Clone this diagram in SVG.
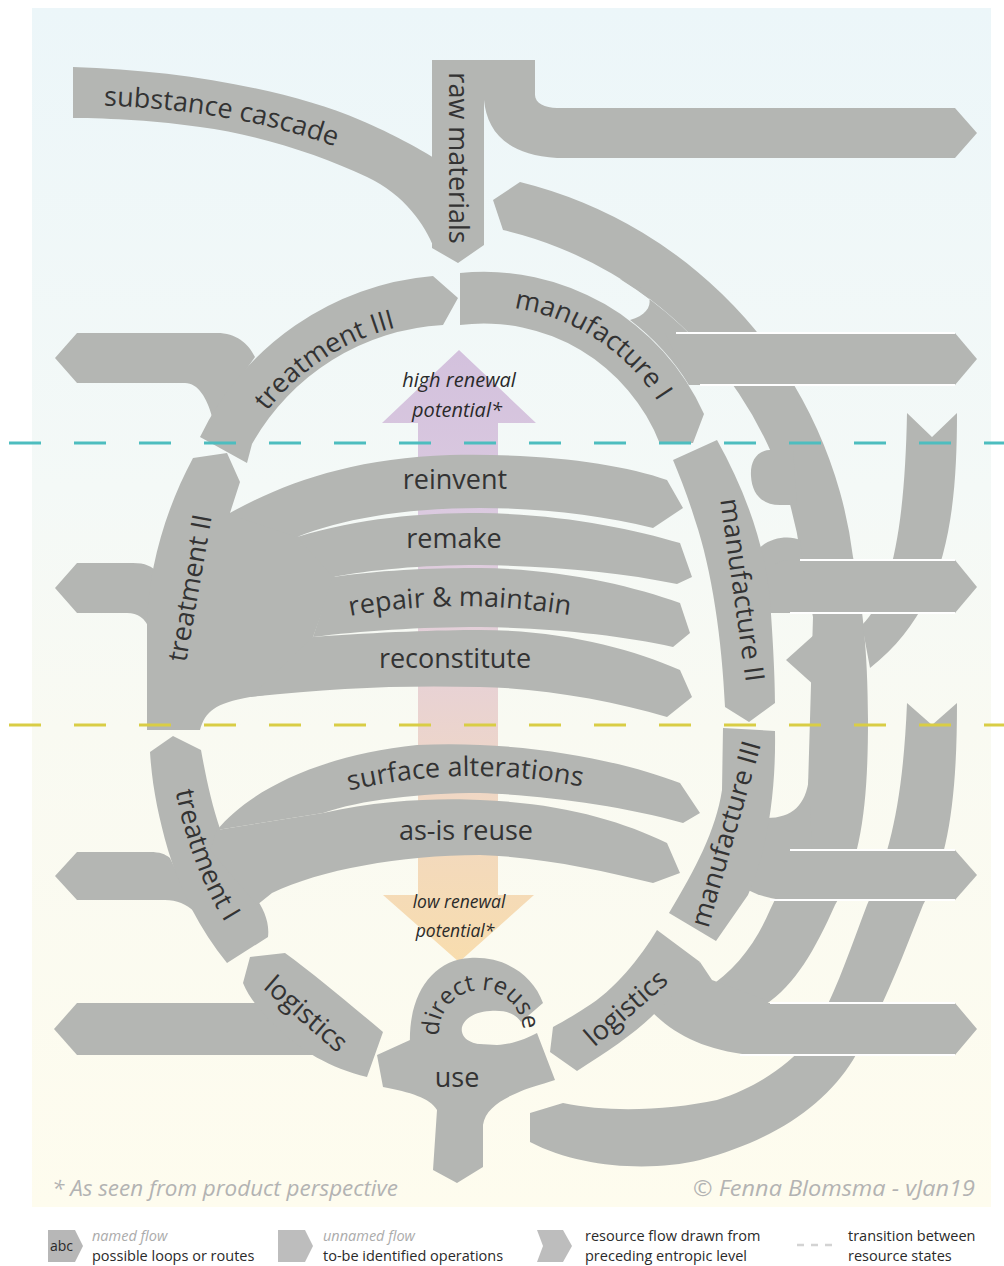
<svg xmlns="http://www.w3.org/2000/svg" width="1004" height="1266" viewBox="0 0 1004 1266">
<defs>
<linearGradient id="bg" x1="0" y1="8" x2="0" y2="1207" gradientUnits="userSpaceOnUse">
<stop offset="0" stop-color="#ecf6f9"/>
<stop offset="0.4" stop-color="#f4f9f7"/>
<stop offset="0.6" stop-color="#f9faf2"/>
<stop offset="1" stop-color="#fefcee"/>
</linearGradient>
<linearGradient id="renew" x1="0" y1="350" x2="0" y2="962" gradientUnits="userSpaceOnUse">
<stop offset="0" stop-color="#d3c1dd"/>
<stop offset="0.3" stop-color="#dccbe0"/>
<stop offset="0.55" stop-color="#e8d2d4"/>
<stop offset="0.75" stop-color="#f1d8c2"/>
<stop offset="1" stop-color="#f8ddae"/>
</linearGradient>
<path id="p-cascade" d="M 88,105 C 170,107 260,117 350,152"/>
<path id="p-t3" d="M 229.5,477.9 A 240 240 0 0 1 471.7,320.6"/>
<path id="p-m1" d="M 448.2,309.1 A 206 206 0 0 1 683.9,462.2"/>
<path id="p-repair" d="M 345,617 Q 455,596 575,616"/>
<path id="p-surface" d="M 343,792 Q 465,762 588,788"/>
<path id="p-t1" d="M 171,765 Q 186,870 240,945"/>
<path id="p-direct" d="M 439.1,1035.1 A 42 42 0 1 1 522.9,1029.1"/>
</defs>
<style>
.f{fill:#b4b6b3}
.edge{fill:none;stroke:#ffffff;stroke-width:2}
.lbl{font-family:'Open Sans','Liberation Sans',sans-serif;font-size:27px;fill:#333333}
.ren{font-family:'Open Sans','Liberation Sans',sans-serif;font-style:italic;fill:#2a2a2a}
.foot{font-family:'Open Sans','Liberation Sans',sans-serif;font-style:italic;font-size:22px;fill:#b3b3b3}
.lg{font-family:'Open Sans','Liberation Sans',sans-serif;font-size:14.5px;fill:#2a2a2a}
.lgi{font-family:'Open Sans','Liberation Sans',sans-serif;font-size:14.5px;font-style:italic;fill:#ababab}
.dash1{fill:none;stroke:#4dbdbf;stroke-width:3;stroke-dasharray:32 33}
.dash2{fill:none;stroke:#d9cd45;stroke-width:3;stroke-dasharray:32 33}
</style>
<rect x="0" y="0" width="1004" height="1266" fill="#ffffff"/>
<rect x="32" y="8" width="959" height="1199" fill="url(#bg)"/>

<g id="renewal-arrow">
<path d="M 459,350 L 536,423 L 498,423 L 498,895 L 534,895 L 459,962 L 383,895 L 418,895 L 418,423 L 382,423 Z" fill="url(#renew)"/>
</g>

<g id="connectors">
<path class="f" d="M 493,200 L 520,182 A 442 442 0 0 1 853,557 C 862,600 868,650 868,720 C 868,800 862,860 835,905 C 815,950 795,985 765,1005 L 705,990 C 735,970 755,945 770,910 C 790,870 805,830 808,787 L 813,617 L 801,557 A 391 391 0 0 0 503,230 Z"/>
<path class="f" d="M 776,450 C 758,448 750,460 751,476 C 752,494 762,505 780,505 L 797,505 L 793,450 Z"/>
<path class="f" d="M 758,550 C 768,537 790,535 800,540 L 809,613 L 768,613 Z"/>
<path class="f" d="M 815,634 L 786,660 L 815,686 Z"/>
<path class="f" d="M 809,778 C 806,805 792,818 767,818 L 758,852 L 812,852 Z"/>
<path class="f" d="M 620,279 C 655,285 660,312 630,320 A 241 241 0 0 1 689,385 L 733,385 A 391 391 0 0 0 620,279 Z"/>
<path class="f" d="M 907,413 L 932,437 L 957,413 C 957,520 945,610 870,668 L 862,625 C 893,595 905,520 907,413 Z"/>
<path class="f" d="M 907,703 L 932,725 L 957,703 C 957,800 948,860 923,905 C 905,950 885,1005 853,1060 C 825,1105 775,1140 700,1160 C 650,1172 580,1168 530,1142 L 530,1113 L 563,1103 C 610,1113 670,1110 717,1100 C 760,1087 790,1062 805,1045 C 830,1010 848,955 867,905 C 890,855 903,800 907,703 Z"/>
<path class="f" d="M 665,333 L 955,333 L 977,359 L 955,385 L 689,385 Z"/>
<path class="edge" d="M 676,333 L 955,333 M 700,385 L 955,385"/>
<path class="f" d="M 790,560 L 955,560 L 977,587 L 955,613 L 768,613 L 768,572 C 774,563 781,560 790,560 Z"/>
<path class="edge" d="M 800,560 L 955,560 M 790,613 L 955,613"/>
<path class="f" d="M 783,850 L 955,850 L 977,875 L 955,900 L 783,900 C 765,898 752,893 743,887 L 760,850 Z"/>
<path class="edge" d="M 790,850 L 955,850 M 770,900 L 955,900"/>
<path class="f" d="M 760,1003 L 955,1003 L 977,1029 L 955,1055 L 750,1055 C 705,1050 675,1035 652,1012 L 700,962 L 712,980 L 765,1000 Z"/>
<path class="edge" d="M 770,1003 L 955,1003 M 740,1055 L 955,1055"/>
<path class="f" d="M 217,333 C 236,333 248,343 255,357 L 212,417 C 207,398 198,383 185,383 L 77,383 L 55,358 L 77,333 Z"/>
<path class="f" d="M 77,563 L 133,563 C 145,563 152,566 158,573 L 150,630 C 145,618 138,613 127,613 L 77,613 L 55,588 Z"/>
<path class="f" d="M 77,852 L 150,852 C 160,852 165,854 170,858 L 195,912 C 186,904 177,900 165,900 L 77,900 L 55,876 Z"/>
<path class="f" d="M 77,1003 L 262,1003 L 330,1055 L 77,1055 L 54,1029 Z"/>
</g>

<g id="substance-cascade"><path class="f" d="M 73,67 C 180,70 290,90 360,120 C 395,135 418,148 434,158 L 434,248 C 425,225 405,195 367,177 C 320,155 260,135 200,127 C 160,121 110,118 73,118 Z"/>
<text class="lbl" text-anchor="middle"><textPath href="#p-cascade" startOffset="50%">substance cascade</textPath></text></g>

<g id="raw-materials"><path class="f" d="M 432,60 L 535,60 L 535,95 C 535,103 545,108 557,108 L 955,108 L 977,133 L 955,158 L 557,158 C 505,155 487,130 484,100 L 484,245 L 458,263 L 432,248 Z"/>
<text class="lbl" text-anchor="middle" transform="translate(458,158) rotate(90)" x="0" y="9">raw materials</text></g>

<g id="treatment-iii"><path class="f" d="M 433,276 L 458,298 L 443,325 A 234 234 0 0 0 252,444 L 247,463 L 200,437 A 285 285 0 0 1 433,276 Z"/>
<text class="lbl" text-anchor="middle"><textPath href="#p-t3" startOffset="50%">treatment III</textPath></text></g>

<g id="manufacture-i"><path class="f" d="M 460,273 A 241 241 0 0 1 704,414 L 693,443 L 660,444 A 189 189 0 0 0 460,325 Z"/>
<text class="lbl" text-anchor="middle"><textPath href="#p-m1" startOffset="50%">manufacture I</textPath></text></g>

<g id="manufacture-ii"><path class="f" d="M 673,460 L 717,440 C 745,490 765,545 770,600 C 773,640 775,680 775,703 L 749,722 L 725,707 C 722,640 712,570 695,520 C 688,497 680,477 673,460 Z"/>
<text class="lbl" text-anchor="middle" transform="translate(742,590) rotate(82)" x="0" y="9">manufacture II</text></g>

<g id="manufacture-iii"><path class="f" d="M 723,728 L 775,731 C 776,790 768,850 748,895 L 716,941 L 669,913 C 695,870 716,830 722,790 Z"/>
<text class="lbl" text-anchor="middle" transform="translate(726,834) rotate(-74)" x="0" y="9">manufacture III</text></g>

<g id="logistics-right"><path class="f" d="M 553,1027 L 550,1052 L 577,1071 C 610,1050 640,1030 660,1008 C 680,990 692,975 700,962 L 657,930 C 640,958 615,990 585,1008 C 573,1016 562,1022 553,1027 Z"/>
<text class="lbl" text-anchor="middle" transform="translate(626,1008) rotate(-41)" x="0" y="9">logistics</text></g>

<g id="use"><path class="f" d="M 377,1055 L 410,1040 L 497,1045 C 515,1044 527,1038 537,1033 L 555,1080 C 540,1085 527,1088 517,1093 C 500,1100 485,1110 483,1125 L 483,1167 L 457,1183 L 433,1170 L 437,1110 C 430,1098 410,1092 383,1087 Z"/>
<text class="lbl" text-anchor="middle" x="457" y="1087">use</text></g>

<g id="direct-reuse"><path class="f" d="M 410,1045 C 408,995 432,960 470,958 C 505,956 533,975 543,1003 L 521,1022 C 515,1013 505,1010 490,1011 C 470,1012 460,1023 462,1032 C 464,1042 478,1046 497,1046 L 497,1060 L 410,1060 Z"/>
<text class="lbl" text-anchor="middle" style="font-size:24px"><textPath href="#p-direct" startOffset="50%">direct reuse</textPath></text></g>

<g id="logistics-left"><path class="f" d="M 243,983 L 250,957 L 285,953 C 315,975 345,1000 383,1032 L 367,1077 C 330,1068 300,1050 280,1030 C 262,1013 250,1000 243,983 Z"/>
<text class="lbl" text-anchor="middle" transform="translate(306,1014) rotate(41)" x="0" y="9">logistics</text></g>

<g id="treatment-ii"><path class="f" d="M 193,458 L 227,453 L 240,482 L 230,513 L 300,537 L 335,577 L 313,637 L 300,690 L 250,697 C 215,703 205,712 200,730 L 147,730 L 147,625 C 148,570 165,510 193,458 Z"/>
<text class="lbl" text-anchor="middle" transform="translate(190,588) rotate(-80)" x="0" y="9">treatment II</text></g>

<g id="reinvent"><path class="f" d="M 228,514 C 280,485 350,458 450,455 C 540,453 620,463 667,480 L 683,508 L 653,528 C 600,515 540,508 480,508 C 400,508 340,520 297,537 Z"/>
<text class="lbl" text-anchor="middle" x="455" y="489">reinvent</text></g>

<g id="remake"><path class="f" d="M 297,537 C 360,518 420,513 480,513 C 560,514 630,528 680,543 L 692,577 L 677,584 C 620,572 550,566 480,565 C 420,565 370,570 333,577 Z"/>
<text class="lbl" text-anchor="middle" x="454" y="548">remake</text></g>

<g id="repair-maintain"><path class="f" d="M 333,577 C 390,569 440,568 480,568 C 560,569 630,585 680,603 L 690,633 L 673,647 C 620,635 550,628 480,627 C 420,627 360,631 313,637 Z"/>
<text class="lbl" text-anchor="middle"><textPath href="#p-repair" startOffset="50%">repair &amp; maintain</textPath></text></g>

<g id="reconstitute"><path class="f" d="M 313,637 C 380,632 440,630 480,630 C 560,630 630,648 680,670 L 692,697 L 667,717 C 610,700 540,688 480,687 C 400,685 330,688 250,697 Z"/>
<text class="lbl" text-anchor="middle" x="455" y="668">reconstitute</text></g>

<g id="treatment-i"><path class="f" d="M 150,752 L 173,736 L 201,750 C 210,800 222,850 250,890 C 262,905 270,920 268,937 L 227,963 C 200,930 180,890 168,850 C 158,815 152,785 150,752 Z"/>
<text class="lbl" text-anchor="middle"><textPath href="#p-t1" startOffset="50%">treatment I</textPath></text></g>

<g id="surface-alterations"><path class="f" d="M 217,830 C 250,790 320,755 417,745 C 520,740 620,760 680,783 L 700,813 L 683,823 C 620,805 540,795 480,793 C 420,793 360,800 323,813 Z"/>
<text class="lbl" text-anchor="middle"><textPath href="#p-surface" startOffset="50%">surface alterations</textPath></text></g>

<g id="as-is-reuse"><path class="f" d="M 323,813 C 380,800 440,798 480,800 C 560,803 620,820 667,843 L 680,873 L 653,883 C 600,870 540,857 480,855 C 400,855 320,870 272,893 L 257,905 L 210,850 L 217,830 Z"/>
<text class="lbl" text-anchor="middle" x="466" y="840">as-is reuse</text></g>

<g id="transitions">
<path class="dash1" d="M 9,443 L 1004,443"/>
<path class="dash2" d="M 9,725 L 1004,725"/>
</g>

<g id="renewal-labels">
<text class="ren" text-anchor="middle" x="459" y="387" style="font-size:20px">high renewal</text>
<text class="ren" text-anchor="middle" x="457" y="417" style="font-size:20px">potential*</text>
<text class="ren" text-anchor="middle" x="459" y="908" style="font-size:17.5px">low renewal</text>
<text class="ren" text-anchor="middle" x="455" y="937" style="font-size:17.5px">potential*</text>
</g>

<g id="footer">
<text class="foot" x="52" y="1196" textLength="346" lengthAdjust="spacingAndGlyphs">* As seen from product perspective</text>
<text class="foot" x="693" y="1196" textLength="282" lengthAdjust="spacingAndGlyphs">© Fenna Blomsma - vJan19</text>
</g>

<g id="legend">
<path d="M 48,1230 L 75,1230 L 83,1246 L 75,1262 L 48,1262 Z" fill="#b7b7b7"/>
<text class="lg" x="50" y="1251" style="font-size:14px">abc</text>
<text class="lgi" x="92" y="1241">named flow</text>
<text class="lg" x="92" y="1261">possible loops or routes</text>
<path d="M 278,1230 L 305,1230 L 313,1246 L 305,1262 L 278,1262 Z" fill="#bdbdbd"/>
<text class="lgi" x="323" y="1241">unnamed flow</text>
<text class="lg" x="323" y="1261">to-be identified operations</text>
<path d="M 537,1230 L 563,1230 L 572,1246 L 563,1262 L 537,1262 L 543,1246 Z" fill="#bdbdbd"/>
<text class="lg" x="585" y="1241">resource flow drawn from</text>
<text class="lg" x="585" y="1261">preceding entropic level</text>
<path d="M 797,1245 L 834,1245" fill="none" stroke="#d3d3d3" stroke-width="2.5" stroke-dasharray="7 7"/>
<text class="lg" x="848" y="1241">transition between</text>
<text class="lg" x="848" y="1261">resource states</text>
</g>
</svg>
